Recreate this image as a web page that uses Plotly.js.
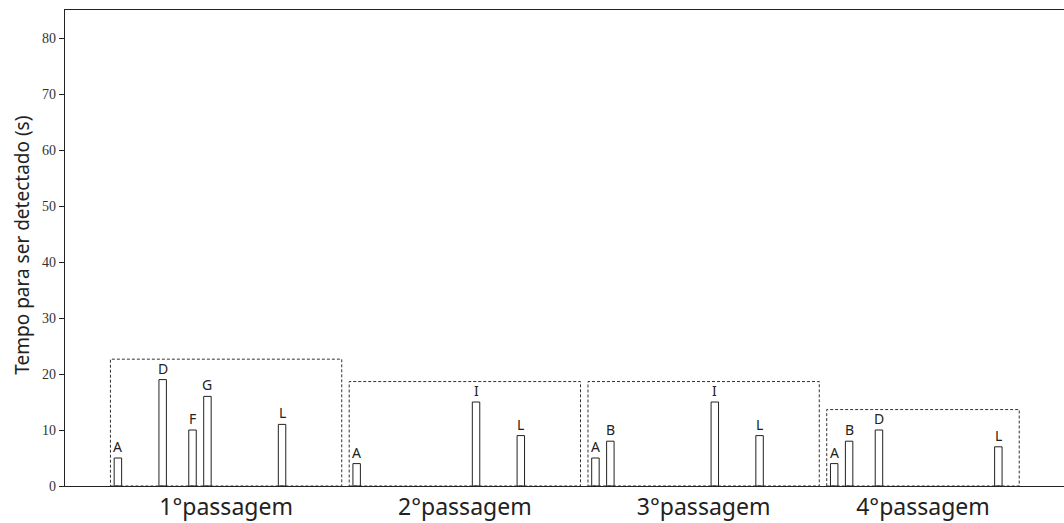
<!DOCTYPE html>
<html>
<head>
<meta charset="utf-8">
<script src="https://cdn.plot.ly/plotly-3.0.1.min.js"></script>
<style>html,body{margin:0;padding:0;background:#fff;}#chart{width:1064px;height:523px;}</style>
</head>
<body>
<div id="chart"></div>
<script>
// ---- data ----
const letters = ['A','B','C','D','E','F','G','H','I','J','K','L'];
const groups = ['1°passagem','2°passagem','3°passagem','4°passagem'];
const g1Labels = ['A','D','F','G','L'];
const g1Values = [5, 19, 10, 16, 11];
const g2Labels = ['A','I','L'];
const g2Values = [4, 15, 9];
const g3Labels = ['A','B','I','L'];
const g3Values = [5, 8, 15, 9];
const g4Labels = ['A','B','D','L'];
const g4Values = [4, 8, 10, 7];
const yTicks = [0,10,20,30,40,50,60,70,80];

// ---- layout helpers ----
const groupLabels = [g1Labels, g2Labels, g3Labels, g4Labels];
const groupValues = [g1Values, g2Values, g3Values, g4Values];
const stride = 16;
const boxLeft = -0.5;
const boxRight = [15, 15, 15, 12.4];
const boxPad = 3.65;
const sans = 'Noto Sans, DejaVu Sans, sans-serif';

const traces = [];
const annotations = [];
const shapes = [];
const tickvals = [];

groupLabels.forEach((labs, g) => {
  const vals = groupValues[g];
  const xs = labs.map(l => g * stride + letters.indexOf(l));
  traces.push({
    type: 'bar', x: xs, y: vals, width: 0.5,
    marker: {color: '#ffffff', line: {color: '#222', width: 1}},
    hoverinfo: 'x+y', showlegend: false
  });
  xs.forEach((x, i) => {
    annotations.push({
      x: x, y: vals[i], xref: 'x', yref: 'y', text: labs[i],
      showarrow: false, yanchor: 'bottom', yshift: 0,
      font: {family: sans, size: 14, color: '#222'}
    });
  });
  const x0 = g * stride + boxLeft, x1 = g * stride + boxRight[g];
  shapes.push({
    type: 'rect', xref: 'x', yref: 'y', x0: x0, x1: x1, y0: 0,
    y1: Math.max(...vals) + boxPad,
    line: {color: '#333', width: 1, dash: '3px,2px'}, fillcolor: 'rgba(0,0,0,0)'
  });
  tickvals.push((x0 + x1) / 2);
});

annotations.push({
  xref: 'paper', yref: 'paper', x: -0.043, y: 0.505, textangle: -90,
  text: 'Tempo para ser detectado (s)', showarrow: false,
  xanchor: 'center', yanchor: 'middle',
  font: {family: sans, size: 19, color: '#222'}
});

const layout = {
  width: 1064, height: 523,
  margin: {l: 65, r: 0, t: 10, b: 37},
  paper_bgcolor: '#fff', plot_bgcolor: '#fff',
  bargap: 0,
  xaxis: {
    range: [-3.545, 63.4], showgrid: false, zeroline: false,
    showline: true, linecolor: '#222', linewidth: 1.2, mirror: true,
    tickvals: tickvals, ticktext: groups, ticks: '',
    tickfont: {family: sans, size: 23, color: '#222'}
  },
  yaxis: {
    range: [0, 85], showgrid: false, zeroline: false,
    showline: true, linecolor: '#222', linewidth: 1.2,
    tickvals: yTicks, ticks: 'outside', ticklen: 5, tickcolor: '#222',
    tickfont: {family: 'Liberation Serif, DejaVu Serif, serif', size: 14, color: '#333'}
  },
  shapes: shapes,
  annotations: annotations
};

Plotly.newPlot('chart', traces, layout, {staticPlot: true, displayModeBar: false});
</script>
</body>
</html>
